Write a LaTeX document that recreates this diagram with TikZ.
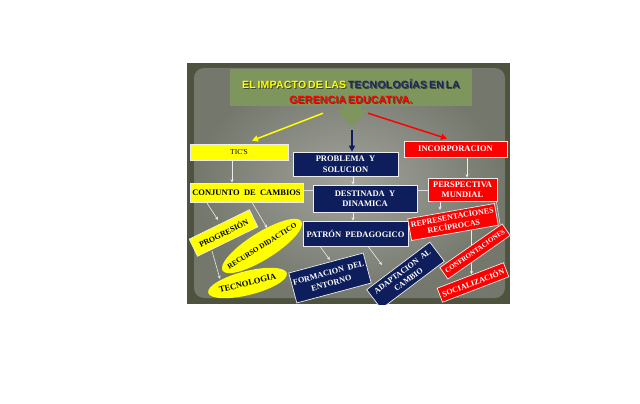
\documentclass[tikz,border=0pt]{standalone}
\usepackage{fontspec}
\setmainfont{Liberation Serif}
\newfontfamily\ser{Liberation Serif}
\newfontfamily\tit[LetterSpace=2,WordSpace=0.6]{Liberation Sans}
\usetikzlibrary{shapes.geometric,arrows.meta,backgrounds,calc}
\definecolor{yel}{RGB}{255,255,0}
\definecolor{nav}{RGB}{14,30,92}
\definecolor{rd}{RGB}{255,0,0}
\definecolor{tgreen}{RGB}{126,150,94}
\definecolor{tnav}{RGB}{28,40,110}
\definecolor{framec}{RGB}{78,83,64}
\definecolor{slin}{RGB}{162,164,156}
\definecolor{slout}{RGB}{116,119,108}
\definecolor{wline}{RGB}{236,236,236}
\begin{document}
\begin{tikzpicture}[x=1pt,y=-1pt,
  box/.style={draw=white!85!gray, line width=0.7pt, inner sep=0pt, align=center,
    font=\ser\bfseries\fontsize{8.5}{10.5}\selectfont},
  ybox/.style={box, fill=yel, text=black},
  nbox/.style={box, fill=nav, text=white},
  rbox/.style={box, fill=rd, text=white},
  yell/.style={ellipse, fill=yel, inner sep=0pt, text=black,
    font=\ser\bfseries\fontsize{8.5}{10}\selectfont},
  wl/.style={draw=wline, line width=0.6pt, -{Stealth[length=3.5pt,width=3pt]}},
  gl/.style={draw=wline!85!gray, line width=0.6pt},
  bigarrow/.style={line width=1.5pt, -{Triangle[length=6pt,width=6pt]}}
]
\useasboundingbox (0,0) rectangle (640,404);

\begin{scope}
\clip (187,63) rectangle (510,304);
% title
\node[fill=tgreen, minimum width=242pt, minimum height=37pt, inner sep=0pt] (titlebox) at (351,87.5) {};
\fill[tgreen] (343,106) -- (361,106) -- (361,110) -- (367,110) -- (352,127) -- (337,110) -- (343,110) -- cycle;
\coordinate (chevtip) at (352,130);
\node[font=\tit\bfseries\fontsize{10.5}{15}\selectfont, align=center, inner sep=0pt, text=black, opacity=0.5] (titleshadow) at (352,92.3)
  {EL IMPACTO DE LAS TECNOLOGÍAS EN LA\\GERENCIA EDUCATIVA.};
\node[font=\tit\bfseries\fontsize{10.5}{15}\selectfont, align=center, inner sep=0pt] (titletext) at (351,91.5)
  {{\color{yel}EL IMPACTO DE LAS} {\color{tnav}TECNOLOGÍAS EN LA}\\{\color{rd}GERENCIA EDUCATIVA.}};

% first row
\node[ybox, minimum width=98pt, minimum height=16pt, font=\ser\fontsize{7.5}{8}\selectfont] (tics) at (239,152) {TIC'S};
\node[nbox, minimum width=105pt, minimum height=24pt] (problema) at (345.5,164) {PROBLEMA~~Y\\SOLUCION};
\node[rbox, minimum width=103pt, minimum height=16pt] (incorp) at (455.5,149) {INCORPORACION};

% second row
\node[ybox, minimum width=113pt, minimum height=19pt] (conj) at (246.5,192.5) {CONJUNTO~~DE~~CAMBIOS};
\node[nbox, minimum width=104pt, minimum height=27pt] (destinada) at (365,198.5) {DESTINADA~~Y\\DINAMICA};
\node[rbox, minimum width=69pt, minimum height=23pt] (perspectiva) at (462.5,189.5) {PERSPECTIVA\\MUNDIAL};

% third level
\node[nbox, minimum width=105pt, minimum height=25pt] (patron) at (355.5,233.5) {PATRÓN~~PEDAGOGICO};
\node[rbox, rotate=10, minimum width=88pt, minimum height=22pt, font=\ser\bfseries\fontsize{8}{9.5}\selectfont] (repres) at (453,222) {REPRESENTACIONES\\RECÍPROCAS};
\node[ybox, rotate=26, minimum width=67pt, minimum height=19pt, font=\ser\bfseries\fontsize{8}{9}\selectfont] (progresion) at (223.5,233) {PROGRESIÓN};
\node[yell, rotate=32, minimum width=93pt, minimum height=27pt, font=\ser\bfseries\fontsize{7.3}{8}\selectfont] (recurso) at (262,246) {\makebox[0pt]{RECURSO DIDACTICO}};
\node[yell, rotate=14, minimum width=81pt, minimum height=24pt] (tecnologia) at (247.5,283) {\makebox[0pt]{TECNOLOGIA}};
\node[nbox, rotate=15, minimum width=77pt, minimum height=31pt, font=\ser\bfseries\fontsize{8.2}{10.5}\selectfont] (formacion) at (330,278) {FORMACION~~DEL\\ENTORNO};
\node[nbox, rotate=37, minimum width=79pt, minimum height=24pt, font=\ser\bfseries\fontsize{8}{10}\selectfont] (adaptacion) at (405.5,275.5) {ADAPTACION~~AL\\CAMBIO};
\node[rbox, rotate=35, minimum width=76pt, minimum height=14pt, font=\ser\bfseries\fontsize{7}{8}\selectfont] (confront) at (475,251.5) {CONFRONTACIONES};
\node[rbox, rotate=21, minimum width=71pt, minimum height=15pt, font=\ser\bfseries\fontsize{8}{9}\selectfont] (social) at (473,282.5) {SOCIALIZACIÓN};

% title arrows
\draw[bigarrow, yel] ([shift={(-28,7)}]titlebox.south) -- ([shift={(13,-3)}]tics.north);
\draw[bigarrow, nav] (chevtip) -- (chevtip |- problema.north);
\draw[bigarrow, rd] ([shift={(17,7)}]titlebox.south) -- ([shift={(-8.5,-2)}]incorp.north);
\end{scope}

\begin{pgfonlayer}{background}
\fill[white] (0,0) rectangle (640,404);
\fill[framec] (187,63) rectangle (510,304);
\shade[inner color=slin, outer color=slout, rounded corners=10pt] (194,68) rectangle (505,298);
% connectors
\draw[wl] ([xshift=-7pt]tics.south) -- ([xshift=-7pt]tics.south |- conj.north);
\draw[wl] ([xshift=-40pt]conj.south) -- ([shift={(-5.5,-13)}]progresion.center);
\draw[wl] ([xshift=5.5pt]conj.south) -- ([shift={(5,-18)}]recurso.center);
\draw[wl] ([shift={(-11.5,18)}]progresion.center) -- ([shift={(-27.5,-4)}]tecnologia.center);
\draw[gl] ([shift={(0,-2.5)}]conj.east) -- ([shift={(0,-2.5)}]conj.east -| destinada.west);
\draw[wl] ([xshift=7.5pt]problema.south) -- ([xshift=7.5pt]problema.south |- destinada.north);
\draw[wl] ([xshift=-12pt]destinada.south) -- ([xshift=-12pt]destinada.south |- patron.north);
\draw[wl] ([xshift=-35.5pt]patron.south) -- ([shift={(0,-18)}]formacion.center);
\draw[wl] ([xshift=12.5pt]patron.south) -- ([shift={(-23.5,-10.5)}]adaptacion.center);
\draw[wl] ([xshift=11.5pt]incorp.south) -- ([xshift=11.5pt]incorp.south |- perspectiva.north);
\draw[wl] ([xshift=-22.5pt]perspectiva.south) -- ([shift={(-13,-12)}]repres.center);
\draw[gl] ([shift={(0,-8.5)}]destinada.east) -- ([shift={(0,-8.5)}]destinada.east -| perspectiva.west);
\draw[wl] ([shift={(18.5,8)}]repres.center) -- ([shift={(-1.5,-8)}]social.center);
\draw[gl] ([shift={(-1,0)}]perspectiva.south east) -- ([shift={(25,-27.5)}]confront.center);
\end{pgfonlayer}
\end{tikzpicture}
\end{document}
